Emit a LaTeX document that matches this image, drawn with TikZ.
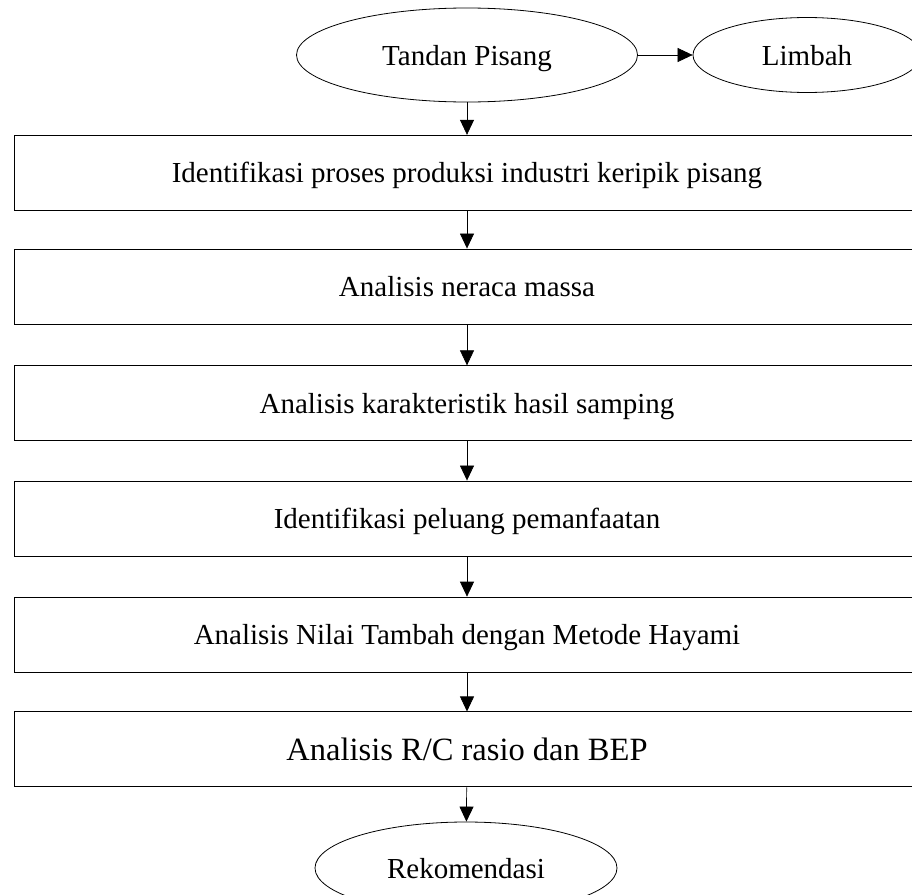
\documentclass[tikz,border=0pt]{standalone}
\usepackage{fontspec}
\setmainfont{Liberation Serif}
\usetikzlibrary{shapes.geometric,arrows.meta}

\begin{document}
\begin{tikzpicture}[x=1pt,y=-1pt]
	\useasboundingbox (0,0) rectangle (912,894);
	\begin{scope}[every node/.style={ellipse,draw,line width=0.8pt,inner sep=0pt,text height=20pt,text depth=0pt,font=\fontsize{29}{35}\selectfont}]
	\node[minimum width=341pt,minimum height=94pt] (T) at (467,55) {Tandan Pisang};
	\node[minimum width=228pt,minimum height=75pt] (L) at (807,55) {Limbah};
	\node[minimum width=302pt,minimum height=92pt] (R) at (466,868) {Rekomendasi};
	\end{scope}
	
	\begin{scope}[every node/.style={rectangle,draw,line width=0.9pt,minimum width=906pt,minimum height=75pt,inner sep=0pt,text height=20pt,text depth=0pt,font=\fontsize{29}{35}\selectfont}]
	\node (B1) at (467,172.8) {Identifikasi proses produksi industri keripik pisang};
	\node (B2) at (467,286.5) {Analisis neraca massa};
	\node (B3) at (467,403.3) {Analisis karakteristik hasil samping};
	\node (B4) at (467,518.5) {Identifikasi peluang pemanfaatan};
	\node (B5) at (467,634.6) {Analisis Nilai Tambah dengan Metode Hayami};
	\node[font=\fontsize{32.5}{38}\selectfont,text height=22pt] (B6) at (467,749.4) {Analisis R/C rasio dan BEP};
	\end{scope}
	
	\begin{scope}[-{Triangle[length=15pt,width=14pt]},line width=0.7pt]
	\draw (T) edge (L);
	\draw (T) edge (B1);
	\draw (B1) edge (B2);
	\draw (B2) edge (B3);
	\draw (B3) edge (B4);
	\draw (B4) edge (B5);
	\draw (B5) edge (B6);
	\draw (B6) edge (R);
	\end{scope}
\end{tikzpicture}
\end{document}
